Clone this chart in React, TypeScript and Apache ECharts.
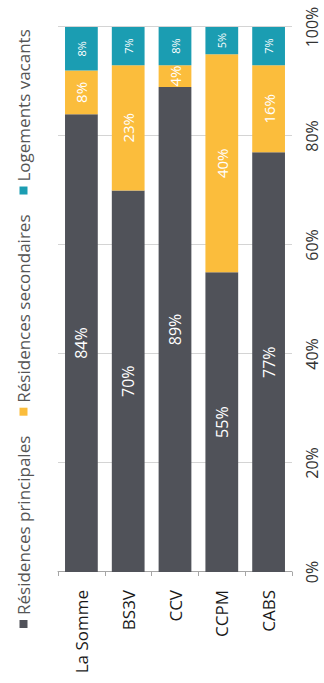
import React, { useEffect, useRef } from "react";
import * as echarts from "echarts";

const categories = ["La Somme", "BS3V", "CCV", "CCPM", "CABS"];
const principales = [84, 70, 89, 55, 77];
const secondaires = [8, 23, 4, 40, 16];
const vacants = [8, 7, 8, 5, 7];
const seriesNames = ["Résidences principales", "Résidences secondaires", "Logements vacants"];
const colors = ["#505259", "#fbbd3c", "#1b9db2"];

const W = 683;
const H = 324;
const FONT = "'Open Sans', 'Noto Sans', sans-serif";

export default function App() {
  const ref = useRef<HTMLDivElement>(null);
  useEffect(() => {
    if (!ref.current) return;
    const chart = echarts.init(ref.current, undefined, { renderer: "svg" });
    const mk = (name: string, data: number[], color: string, fontSize: number) => ({
      name,
      type: "bar",
      stack: "total",
      data,
      barCategoryGap: "30%",
      itemStyle: { color },
      label: {
        show: true,
        position: "inside",
        color: "#ffffff",
        fontSize,
        fontFamily: FONT,
        formatter: (p: any) => p.value + "%",
      },
    });
    chart.setOption({
      animation: false,
      backgroundColor: "#ffffff",
      textStyle: { fontFamily: FONT },
      legend: {
        left: 50,
        top: 10,
        icon: "rect",
        itemWidth: 8,
        itemHeight: 8,
        itemGap: 20,
        textStyle: { color: "#555555", fontSize: 17, fontFamily: FONT },
        data: seriesNames,
      },
      grid: { left: 111, right: 27, top: 58, bottom: 32, containLabel: false },
      xAxis: {
        type: "value",
        min: 0,
        max: 100,
        interval: 20,
        axisLabel: {
          formatter: "{value}%",
          color: "#333333",
          fontSize: 16,
          fontFamily: FONT,
          margin: 12,
        },
        axisLine: { show: false },
        axisTick: { show: false },
        splitLine: { lineStyle: { color: "#d4d4d4", width: 1 } },
      },
      yAxis: {
        type: "category",
        inverse: true,
        data: categories,
        axisLabel: {
          color: "#1a1a1a",
          fontSize: 17,
          fontFamily: FONT,
          margin: 18,
        },
        axisLine: { show: true, lineStyle: { color: "#a6a6a6" } },
        axisTick: { show: true, length: 4, lineStyle: { color: "#a6a6a6" } },
      },
      series: [
        mk(seriesNames[0], principales, colors[0], 16),
        mk(seriesNames[1], secondaires, colors[1], 15),
        mk(seriesNames[2], vacants, colors[2], 11),
      ],
    });
    return () => chart.dispose();
  }, []);

  return (
    <div
      style={{
        position: "fixed",
        left: 0,
        top: 0,
        width: 324,
        height: 683,
        background: "#ffffff",
        overflow: "hidden",
      }}
    >
      <div
        ref={ref}
        style={{
          position: "absolute",
          left: 0,
          top: 0,
          width: W,
          height: H,
          transformOrigin: "0 0",
          transform: `translateY(${W}px) rotate(-90deg)`,
        }}
      />
    </div>
  );
}
